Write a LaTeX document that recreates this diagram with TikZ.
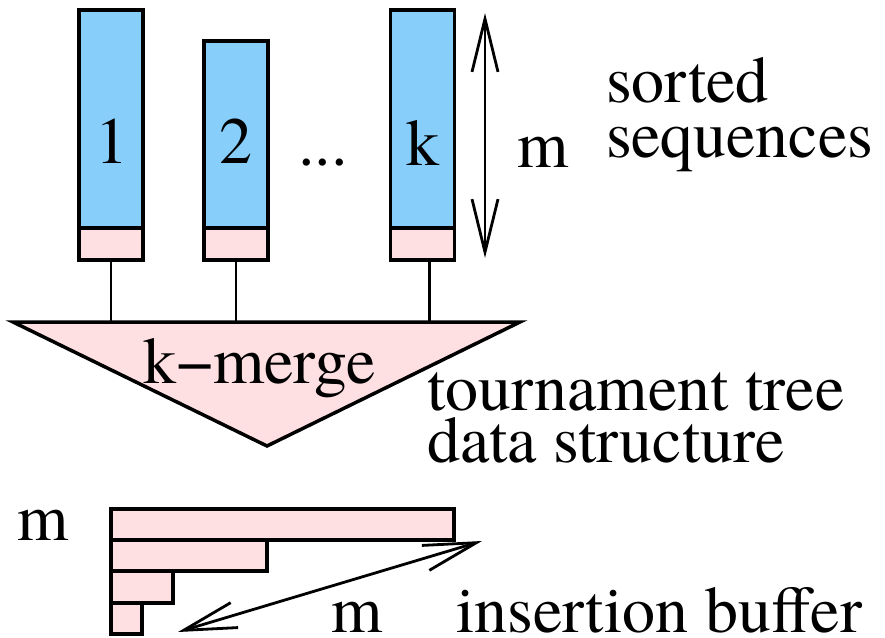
\documentclass[tikz,border=0pt]{standalone}
\usepackage{fontspec}
\setmainfont{texgyretermes}[Extension=.otf, UprightFont=*-regular]
\usetikzlibrary{arrows.meta}
\definecolor{seqblue}{RGB}{135,206,250}
\definecolor{bufpink}{RGB}{255,224,226}

\begin{document}
\begin{tikzpicture}[
  x=1pt,
  y=-1pt,
  line width=3.5pt,
  every node/.style={font=\fontsize{66}{66}\selectfont, inner sep=0pt, outer sep=0pt},
  seqbox/.style={draw, fill=seqblue, minimum width=64pt, anchor=south},
  headbox/.style={draw, fill=bufpink, minimum width=64pt, minimum height=32pt, anchor=north},
  barbox/.style={draw, fill=bufpink, minimum height=31pt, anchor=north west},
  dimarrow/.style={{Straight Barb[length=53pt,width=26pt]}-{Straight Barb[length=53pt,width=26pt]}, line width=2.8pt},
  lbl/.style={anchor=base west},
]
\useasboundingbox (0,0) rectangle (885,637);

% sorted sequences
\node[seqbox, minimum height=218pt] (seq1) at (111,228) {};
\node[seqbox, minimum height=187pt] (seq2) at (236,228) {};
\node[seqbox, minimum height=218pt] (seqk) at (422.5,228) {};
\node[headbox] (head1) at (111,228) {};
\node[headbox] (head2) at (236,228) {};
\node[headbox] (headk) at (422.5,228) {};
\node[anchor=base] (num1) at (112,163) {1};
\node[anchor=base] (num2) at (236,163) {2};
\node[anchor=base] (numk) at (423,165) {k};
\node[anchor=base] (dots) at (323,165) {...};

\coordinate (mtop) at (485,13);
\coordinate (mbot) at (485,258);
\draw[dimarrow] (mtop) -- (mbot);
\node[lbl] (mseq) at (517,167) {m};
\node[lbl] (sorted) at (606,102) {sorted};
\node[lbl] (sequences) at (606,157) {sequences};

% merger
\coordinate (tl) at (13,322);
\coordinate (tr) at (520,322);
\coordinate (tip) at (267,446);
\draw[fill=bufpink] (tl) -- (tr) -- (tip) -- cycle;
\draw[line width=2.8pt] (head1.south) -- (head1.south |- tl);
\draw[line width=2.8pt] (head2.south) -- (head2.south |- tl);
\draw[line width=2.8pt] ([xshift=7pt]headk.south) -- ([xshift=7pt]headk.south |- tl);
\node[lbl] (merge) at (143,383) {k−merge};
\node[lbl] (tourn) at (427,410) {tournament tree};
\node[lbl] (data) at (427,462) {data structure};

% insertion buffer
\node[barbox, minimum width=343pt] (bar1) at (111,509) {};
\node[barbox, minimum width=156pt] (bar2) at (111,540) {};
\node[barbox, minimum width=62pt, minimum height=32pt] (bar3) at (111,571) {};
\node[barbox, minimum width=31pt] (bar4) at (111,603) {};
\node[lbl] (mrows) at (17,540) {m};

\coordinate (dlo) at (178,632);
\coordinate (dhi) at (482,541);
\draw[dimarrow] (dlo) -- (dhi);
\node[lbl] (mcols) at (331,632) {m};
\node[lbl] (insert) at (456,632) {insertion buffer};

\end{tikzpicture}
\end{document}
